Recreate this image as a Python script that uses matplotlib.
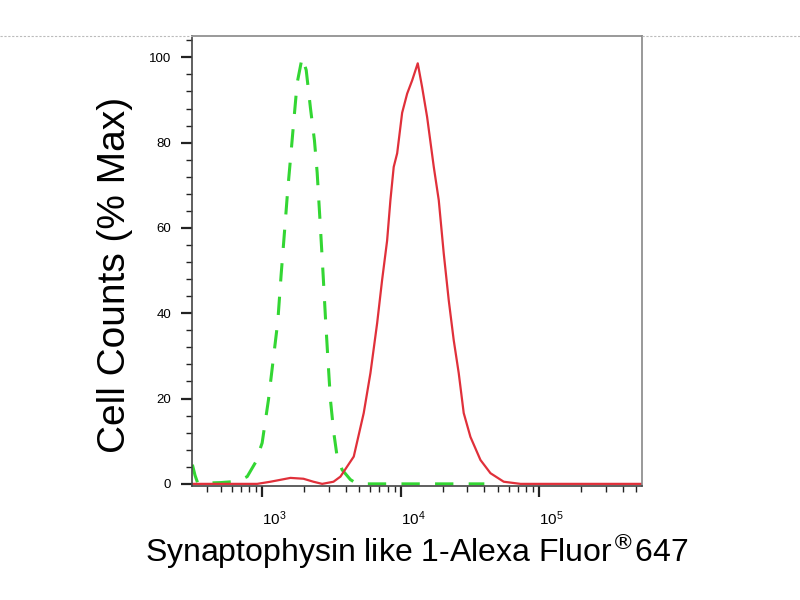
import matplotlib
matplotlib.use('Agg')
import matplotlib.pyplot as plt
from matplotlib.lines import Line2D
from matplotlib.ticker import LogLocator, MultipleLocator

# isotype control (green, dashed)
ctrl_x = [312, 326, 340, 400, 500, 600, 700, 776, 890, 995, 1105, 1195, 1290,
          1364, 1442, 1523, 1612, 1683, 1781, 1936, 2070, 2223, 2374, 2483,
          2623, 2742, 2850, 2960, 3097, 3273, 3460, 3760, 4315, 4827, 10000,
          40000]
ctrl_y = [4.5, 2.0, 0.3, 0.2, 0.3, 0.5, 1.0, 1.7, 5.0, 9.6, 19.7, 29, 38,
          49, 59, 69, 78, 85, 94, 100, 97, 88, 80.5, 73,
          60, 49, 39, 30, 19.7, 12, 6.4, 3.3, 1.0, 0.0, 0.0,
          0.0]

# Synaptophysin like 1 stained (red, solid)
stain_x = [312, 600, 916, 1142, 1593, 1977, 2334, 2698, 3257, 3657, 4563,
           5385, 6023, 6733, 7311, 7943, 8392, 8866, 9390, 10200, 11090,
           12050, 13220, 14220, 15450, 17260, 18750, 20370, 22140, 24040,
           26120, 28390, 31750, 37500, 44290, 55230, 72930, 150000, 550000]
stain_y = [0.0, 0.0, 0.0, 0.5, 1.4, 1.2, 0.5, 0.0, 0.5, 1.7, 6.4,
           16.6, 26, 37.7, 47.8, 57, 66.5, 74.3, 77.5, 87, 91.5,
           94.6, 98.6, 93, 86, 74.3, 66.5, 54, 43, 33.7,
           26, 16.6, 11, 5.6, 2.5, 0.5, 0.0, 0.0, 0.0]

yticks = [0, 20, 40, 60, 80, 100]

plt.rcParams['font.family'] = ['Liberation Sans', 'DejaVu Sans']

fig = plt.figure(figsize=(8, 6), dpi=100)
ax = fig.add_axes([0.24, 0.19, 0.5625, 0.75])

ax.plot(ctrl_x, ctrl_y, color='#33d633', lw=2.2, dashes=(6, 5))
ax.plot(stain_x, stain_y, color='#e0303a', lw=1.6)

ax.set_xscale('log')
ax.set_xlim(310, 5.5e5)
ax.set_ylim(-0.5, 105)
ax.set_yticks(yticks)
ax.yaxis.set_minor_locator(MultipleLocator(4))
ax.xaxis.set_major_locator(LogLocator(base=10, numticks=10))
ax.xaxis.set_minor_locator(LogLocator(base=10, subs=range(2, 10), numticks=20))

ax.tick_params(which='major', direction='out', length=8, width=1.6,
               color='#222222', pad=7)
ax.tick_params(which='minor', direction='out', length=4, width=1.0,
               color='#222222')
ax.tick_params(axis='y', which='major', labelsize=9.5, pad=7)
ax.tick_params(axis='x', which='major', labelsize=11, pad=9)
for lab in ax.get_xticklabels():
    lab.set_horizontalalignment('left')

for side in ['top', 'right']:
    ax.spines[side].set_color('#888888')
    ax.spines[side].set_linewidth(1.2)
for side in ['left', 'bottom']:
    ax.spines[side].set_color('#444444')
    ax.spines[side].set_linewidth(1.2)

ax.set_ylabel('Cell Counts (% Max)', fontsize=28)
ax.yaxis.set_label_coords(-0.131, 0.47)
ax.set_xlabel('Synaptophysin like 1-Alexa Fluor$^{\\circledR}$647',
              fontsize=23, labelpad=2)

# faint dashed page line level with the top of the plot
for x0, x1 in [(0.0, 0.24), (0.8025, 1.0)]:
    fig.add_artist(Line2D([x0, x1], [0.94, 0.94], transform=fig.transFigure,
                          color='#bbbbbb', lw=0.8, ls=(0, (2, 1.5))))

fig.savefig('out.png', dpi=100)
